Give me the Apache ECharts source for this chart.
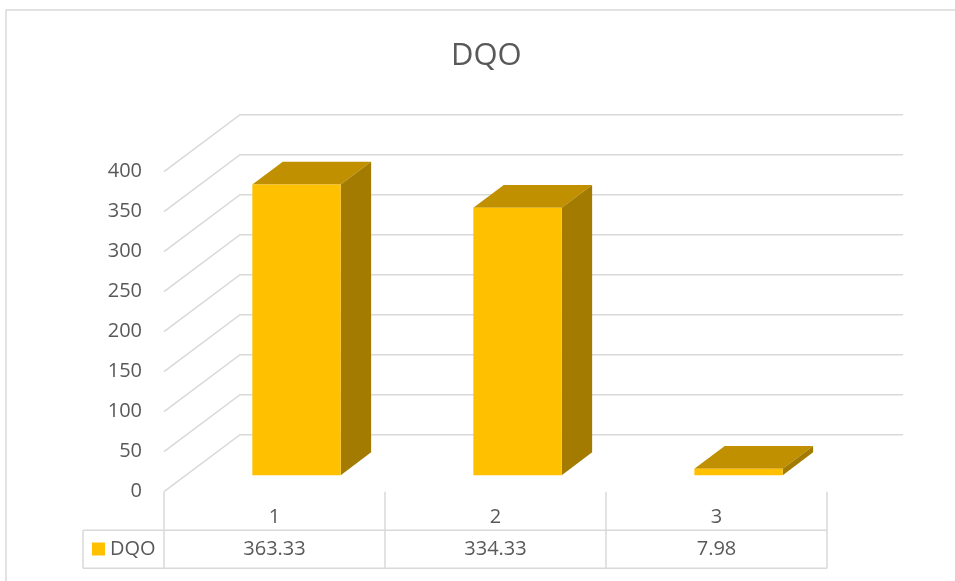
<!DOCTYPE html>
<html>
<head>
<meta charset="utf-8">
<title>DQO</title>
<script src="https://cdn.jsdelivr.net/npm/echarts@6/dist/echarts.min.js"></script>
<style>
  html, body { margin: 0; padding: 0; background: #fff; }
  #chart { width: 955px; height: 581px; }
</style>
</head>
<body>
<div id="chart"></div>
<script>
const categories = ['1', '2', '3']
const dqoValues = [363.33, 334.33, 7.98]
const yTicks = [0, 50, 100, 150, 200, 250, 300, 350, 400]

const FONT = '"Open Sans", "DejaVu Sans", sans-serif'
const TEXT = '#595959'
const LINE = '#d9d9d9'
const FRONT = '#ffc000'
const TOP = '#c09000'
const SIDE = '#a27b00'

// oblique depth of the floor, in px
const DEPTH_X = 76
const DEPTH_Y = 57

function renderGridLine(params, api) {
  const cs = params.coordSys
  const y = api.coord([0, api.value(1)])[1]
  const x0 = cs.x
  const x1 = cs.x + cs.width
  return {
    type: 'polyline',
    shape: { points: [[x0, y], [x0 + DEPTH_X, y - DEPTH_Y], [x1 + DEPTH_X, y - DEPTH_Y]] },
    style: { stroke: LINE, lineWidth: 1.5, fill: null },
  }
}

function renderBar(params, api) {
  const i = api.value(0)
  const base = api.coord([i, 0])
  const top = api.coord([i, api.value(1)])
  const band = api.size([1, 0])[0]
  const w = band * 0.4
  const ox = DEPTH_X * 0.29
  const oy = DEPTH_Y * 0.29
  const dx = DEPTH_X * 0.4
  const dy = DEPTH_Y * 0.4
  const xl = base[0] - w / 2 + ox
  const xr = xl + w
  const yb = base[1] - oy
  const yt = top[1] - oy
  return {
    type: 'group',
    children: [
      {
        type: 'polygon',
        shape: { points: [[xl, yt], [xr, yt], [xr + dx, yt - dy], [xl + dx, yt - dy]] },
        style: { fill: TOP },
      },
      {
        type: 'polygon',
        shape: { points: [[xr, yt], [xr + dx, yt - dy], [xr + dx, yb - dy], [xr, yb]] },
        style: { fill: SIDE },
      },
      {
        type: 'rect',
        shape: { x: xl, y: yt, width: w, height: yb - yt },
        style: { fill: FRONT },
      },
    ],
  }
}

function renderTable(params, api) {
  const cs = params.coordSys
  const i = api.value(0)
  const band = api.size([1, 0])[0]
  const cx = api.coord([i, 0])[0]
  const floorY = cs.y + cs.height
  const rowTop = floorY + 38.5
  const rowBottom = floorY + 76.5
  const lineStyle = { stroke: LINE, lineWidth: 1.5 }
  const children = [
    {
      type: 'line',
      shape: { x1: cx - band / 2, y1: floorY, x2: cx - band / 2, y2: rowBottom },
      style: lineStyle,
    },
    {
      type: 'text',
      style: {
        text: api.value(1).toFixed(2),
        x: cx,
        y: (rowTop + rowBottom) / 2,
        align: 'center',
        verticalAlign: 'middle',
        fill: TEXT,
        fontSize: 20,
        fontFamily: FONT,
      },
    },
  ]
  if (i === categories.length - 1) {
    children.push({
      type: 'line',
      shape: { x1: cx + band / 2, y1: floorY, x2: cx + band / 2, y2: rowBottom },
      style: lineStyle,
    })
  }
  if (i === 0) {
    const right = cs.x + cs.width
    children.push(
      { type: 'line', shape: { x1: 83, y1: rowTop, x2: right, y2: rowTop }, style: lineStyle },
      { type: 'line', shape: { x1: 83, y1: rowBottom, x2: right, y2: rowBottom }, style: lineStyle },
      { type: 'line', shape: { x1: 83, y1: rowTop, x2: 83, y2: rowBottom }, style: lineStyle },
    )
  }
  return { type: 'group', children }
}

const chart = echarts.init(document.getElementById('chart'))

chart.setOption({
  animation: false,
  backgroundColor: '#fff',
  textStyle: { fontFamily: FONT },
  title: {
    text: 'DQO',
    left: 446,
    top: 36,
    textStyle: { fontSize: 31, fontWeight: 'normal', color: TEXT, fontFamily: FONT },
  },
  legend: {
    data: ['DQO'],
    left: 92,
    top: 539,
    padding: 0,
    icon: 'rect',
    itemWidth: 13,
    itemHeight: 13,
    textStyle: { fontSize: 20, color: TEXT, fontFamily: FONT },
  },
  graphic: [
    {
      type: 'rect',
      z: -10,
      shape: { x: 6, y: 10, width: 1200, height: 1000 },
      style: { fill: null, stroke: LINE, lineWidth: 1.5 },
      silent: true,
    },
  ],
  grid: { left: 164, right: 128, top: 171.7, bottom: 89.3, outerBoundsMode: 'none' },
  xAxis: {
    type: 'category',
    data: categories,
    axisLine: { show: false },
    axisTick: { show: false },
    axisLabel: { fontSize: 20, color: TEXT, margin: 16, fontFamily: FONT },
  },
  yAxis: {
    type: 'value',
    min: 0,
    max: 400,
    interval: 50,
    axisLine: { show: false },
    axisTick: { show: false },
    splitLine: { show: false },
    axisLabel: { fontSize: 20, color: TEXT, margin: 22, fontFamily: FONT },
  },
  series: [
    {
      name: 'grid',
      type: 'custom',
      silent: true,
      z: 1,
      renderItem: renderGridLine,
      data: yTicks.map((v) => [0, v]),
    },
    {
      name: 'DQO',
      type: 'custom',
      z: 3,
      itemStyle: { color: FRONT },
      renderItem: renderBar,
      data: dqoValues.map((v, i) => [i, v]),
    },
    {
      name: 'table',
      type: 'custom',
      silent: true,
      z: 2,
      renderItem: renderTable,
      data: dqoValues.map((v, i) => [i, v]),
    },
  ],
})
</script>
</body>
</html>
